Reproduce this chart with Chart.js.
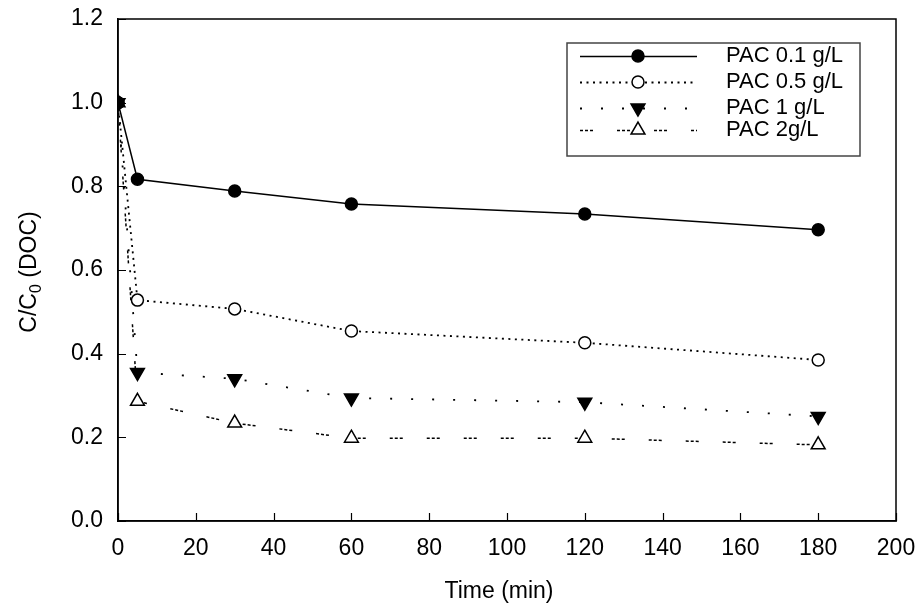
<!DOCTYPE html>
<html>
<head>
<meta charset="utf-8">
<script src="https://cdn.jsdelivr.net/npm/chart.js@4/dist/chart.umd.min.js"></script>
<style>
  html, body { margin: 0; padding: 0; background: #fff; }
  #wrap { width: 922px; height: 612px; }
</style>
</head>
<body>
<div id="wrap"><canvas id="c" width="922" height="612"></canvas></div>
<script>
// ---- data ----
const times = [0, 5, 30, 60, 120, 180];
const pac01 = [1.0, 0.817, 0.789, 0.758, 0.734, 0.696];
const pac05 = [1.0, 0.528, 0.507, 0.454, 0.426, 0.385];
const pac1  = [1.0, 0.355, 0.340, 0.294, 0.284, 0.250];
const pac2  = [1.0, 0.286, 0.234, 0.198, 0.198, 0.182];
const seriesNames = ['PAC 0.1 g/L', 'PAC 0.5 g/L', 'PAC 1 g/L', 'PAC 2g/L'];
const xTicks = [0, 20, 40, 60, 80, 100, 120, 140, 160, 180, 200];
const yTicks = [0.0, 0.2, 0.4, 0.6, 0.8, 1.0, 1.2];
const xTitle = 'Time (min)';

const FONT = '"Liberation Sans", Arial, Helvetica, sans-serif';
const toXY = arr => times.map((t, i) => ({ x: t, y: arr[i] }));

const styles = [
  { dash: [], width: 1.5, pointStyle: 'circle', fill: '#000', rotation: 0, radius: 6 },
  { dash: [2, 4.5], width: 1.8, pointStyle: 'circle', fill: '#fff', rotation: 0, radius: 6 },
  { dash: [2, 19], width: 1.8, pointStyle: 'triangle', fill: '#000', rotation: 180, radius: 8 },
  { dash: [3, 2, 3, 2, 3, 24], width: 1.5, pointStyle: 'triangle', fill: '#fff', rotation: 0, radius: 8 }
];
const allData = [pac01, pac05, pac1, pac2];

const datasets = allData.map((arr, i) => ({
  label: seriesNames[i],
  data: toXY(arr),
  borderColor: '#000',
  borderWidth: styles[i].width,
  borderDash: styles[i].dash,
  pointStyle: styles[i].pointStyle,
  pointRotation: styles[i].rotation,
  pointRadius: styles[i].radius,
  pointHoverRadius: styles[i].radius,
  pointBackgroundColor: styles[i].fill,
  pointBorderColor: '#000',
  pointBorderWidth: 1.5,
  tension: 0,
  fill: false
}));

function drawMarker(ctx, style, x, y) {
  ctx.save();
  ctx.setLineDash([]);
  ctx.lineWidth = 1.5;
  ctx.strokeStyle = '#000';
  ctx.fillStyle = style.fill;
  ctx.beginPath();
  const r = style.radius;
  if (style.pointStyle === 'circle') {
    ctx.arc(x, y, r, 0, Math.PI * 2);
  } else {
    const rad = (style.rotation * Math.PI) / 180;
    for (let k = 0; k < 3; k++) {
      const a = rad - Math.PI / 2 + k * (2 * Math.PI / 3);
      const px = x + Math.cos(a) * r;
      const py = y + Math.sin(a) * r;
      if (k === 0) ctx.moveTo(px, py); else ctx.lineTo(px, py);
    }
    ctx.closePath();
  }
  ctx.fill();
  ctx.stroke();
  ctx.restore();
}

const decor = {
  id: 'decor',
  afterDraw(chart) {
    const ctx = chart.ctx;
    const a = chart.chartArea;
    const xs = chart.scales.x, ys = chart.scales.y;
    ctx.save();
    // frame
    ctx.strokeStyle = '#000';
    ctx.lineWidth = 1.5;
    ctx.setLineDash([]);
    ctx.strokeRect(a.left, a.top, a.right - a.left, a.bottom - a.top);
    // inward tick marks
    ctx.lineWidth = 1.2;
    ctx.beginPath();
    xTicks.forEach(v => {
      const px = Math.round(xs.getPixelForValue(v)) + 0.5;
      ctx.moveTo(px, a.bottom);
      ctx.lineTo(px, a.bottom - 8);
    });
    yTicks.forEach(v => {
      const py = Math.round(ys.getPixelForValue(v)) + 0.5;
      ctx.moveTo(a.left, py);
      ctx.lineTo(a.left + 8, py);
    });
    ctx.stroke();

    // x axis title
    ctx.fillStyle = '#000';
    ctx.font = '23px ' + FONT;
    ctx.textAlign = 'center';
    ctx.textBaseline = 'middle';
    ctx.fillText(xTitle, 499, 592);

    // y axis title with subscript
    ctx.save();
    ctx.translate(28, (a.top + a.bottom) / 2 + 2);
    ctx.rotate(-Math.PI / 2);
    const big = '23px ' + FONT, small = '16px ' + FONT;
    ctx.font = big; const w1 = ctx.measureText('C/C').width;
    ctx.font = small; const w2 = ctx.measureText('0').width;
    ctx.font = big; const w3 = ctx.measureText(' (DOC)').width;
    let sx = -(w1 + w2 + w3) / 2;
    ctx.textAlign = 'left';
    ctx.textBaseline = 'alphabetic';
    ctx.font = big; ctx.fillText('C/C', sx, 8);
    sx += w1;
    ctx.font = small; ctx.fillText('0', sx, 13);
    sx += w2;
    ctx.font = big; ctx.fillText(' (DOC)', sx, 8);
    ctx.restore();

    // legend box
    const lx = 567, ly = 43, lw = 293, lh = 113;
    ctx.fillStyle = '#fff';
    ctx.fillRect(lx, ly, lw, lh);
    ctx.strokeStyle = '#444';
    ctx.lineWidth = 1.5;
    ctx.strokeRect(lx, ly, lw, lh);
    const rows = [56, 82, 108, 130];
    rows.forEach((ry, i) => {
      const st = styles[i];
      ctx.save();
      ctx.strokeStyle = '#000';
      ctx.lineWidth = st.width;
      ctx.setLineDash(st.dash);
      ctx.beginPath();
      ctx.moveTo(580, ry + 0.5);
      ctx.lineTo(697, ry + 0.5);
      ctx.stroke();
      ctx.restore();
      drawMarker(ctx, st, 638, ry);
      ctx.fillStyle = '#000';
      ctx.font = '22px ' + FONT;
      ctx.textAlign = 'left';
      ctx.textBaseline = 'middle';
      ctx.fillText(seriesNames[i], 726, ry);
    });
    ctx.restore();
  }
};

new Chart(document.getElementById('c'), {
  type: 'line',
  data: { datasets },
  options: {
    responsive: false,
    animation: false,
    layout: { padding: { left: 0, top: 19, right: 26, bottom: 0 } },
    plugins: { legend: { display: false }, tooltip: { enabled: false } },
    scales: {
      x: {
        type: 'linear',
        min: 0, max: 200,
        afterFit: s => { s.height = 91; s.paddingLeft = 0; s.paddingRight = 0; },
        afterBuildTicks: s => { s.ticks = xTicks.map(v => ({ value: v })); },
        ticks: { color: '#000', font: { family: FONT, size: 23 }, padding: 14, maxRotation: 0, autoSkip: false },
        grid: { display: false, drawTicks: false },
        border: { display: true, color: '#000', width: 1.5 }
      },
      y: {
        type: 'linear',
        min: 0, max: 1.2,
        afterFit: s => { s.width = 118; s.paddingTop = 0; s.paddingBottom = 0; },
        afterBuildTicks: s => { s.ticks = yTicks.map(v => ({ value: v })); },
        ticks: { color: '#000', font: { family: FONT, size: 23 }, padding: 15,
                 callback: v => Number(v).toFixed(1), autoSkip: false },
        grid: { display: false, drawTicks: false },
        border: { display: true, color: '#000', width: 1.5 }
      }
    }
  },
  plugins: [decor]
});
</script>
</body>
</html>
